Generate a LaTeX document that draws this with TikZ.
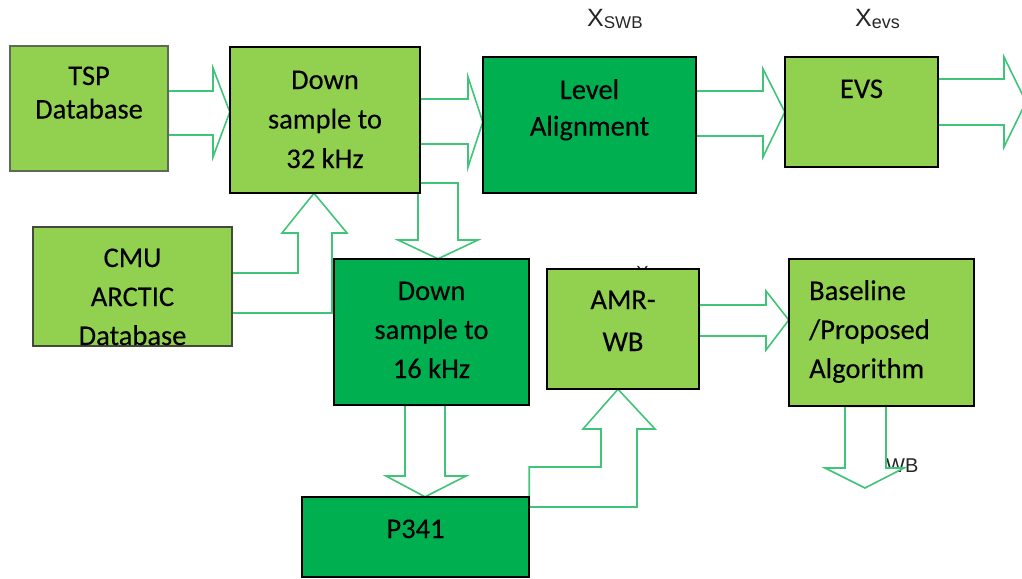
\documentclass[tikz,border=0pt]{standalone}
\usepackage{fontspec}
\setmainfont{Carlito}
\newfontfamily\lblfont{Liberation Sans}
\usetikzlibrary{calc}
\definecolor{lightgrn}{HTML}{92D050}
\definecolor{darkgrn}{HTML}{00B050}
\definecolor{arrowgrn}{RGB}{64,196,120}
\definecolor{greyedge}{RGB}{95,105,85}
% one text line per node, stacked from a first baseline
\newcommand\boxlines[6]{%
  \foreach \l [count=\i from 0] in {#6}{%
    \node[txt,#2] (#1-\i) at (#3,{#4+\i*#5}) {\l};}}
\begin{document}
\begin{tikzpicture}[x=1pt,y=-1pt,
  box/.style={draw=black, line width=1.5pt, inner sep=0pt, outer sep=0pt},
  lbox/.style={box, fill=lightgrn},
  dbox/.style={box, fill=darkgrn},
  txt/.style={inner sep=0pt, anchor=base, font=\fontsize{28.5}{34}\selectfont\addfontfeatures{FakeBold=0.25}, text=black},
  blk/.style={draw=arrowgrn, fill=white, line width=1.6pt, line join=miter},
  lbl/.style={inner sep=0pt, anchor=base west, text=black!85, font=\lblfont}]
\useasboundingbox (0,0) rectangle (1022,578);

% variable labels (partly covered by the blocks and arrows drawn later)
\node[lbl] (xswb) at (587,27) {{\fontsize{25}{25}\selectfont X}\raisebox{-1.5pt}{\fontsize{17}{17}\selectfont SWB}};
\node[lbl] (xevs) at (855,27) {{\fontsize{25}{25}\selectfont X}\raisebox{-1.5pt}{\fontsize{18}{18}\selectfont evs}};
\node[lbl] (xwb) at (636,279) {{\fontsize{19}{19}\selectfont X}\raisebox{-1pt}{\fontsize{13}{13}\selectfont WB}};
\node[lbl] (xout) at (856,471) {{\fontsize{25}{25}\selectfont X}\raisebox{-1.5pt}{\fontsize{20}{20}\selectfont SWB}};

% block positions
\coordinate (c-tsp) at (89,108.5);
\coordinate (c-ds32) at (325,120);
\coordinate (c-lvl) at (589.5,125);
\coordinate (c-evs) at (861.5,112);
\coordinate (c-cmu) at (132.5,286.5);
\coordinate (c-ds16) at (431.5,332);
\coordinate (c-amr) at (623,329);
\coordinate (c-alg) at (881.5,332.5);
\coordinate (c-p341) at (415.5,537);

% invisible anchors for the block outlines (so arrows can refer to them)
\path node[inner sep=0pt, minimum width=158, minimum height=125] (tsp) at (c-tsp) {}
      node[inner sep=0pt, minimum width=190, minimum height=146] (ds32) at (c-ds32) {}
      node[inner sep=0pt, minimum width=213, minimum height=136] (lvl) at (c-lvl) {}
      node[inner sep=0pt, minimum width=153, minimum height=110] (evs) at (c-evs) {}
      node[inner sep=0pt, minimum width=199, minimum height=119] (cmu) at (c-cmu) {}
      node[inner sep=0pt, minimum width=195, minimum height=146] (ds16) at (c-ds16) {}
      node[inner sep=0pt, minimum width=152, minimum height=120] (amr) at (c-amr) {}
      node[inner sep=0pt, minimum width=185, minimum height=147] (alg) at (c-alg) {}
      node[inner sep=0pt, minimum width=227, minimum height=80] (p341) at (c-p341) {};

\coordinate (out) at (1026,102);
\coordinate (algout) at (865,488);

% block arrows
\draw[blk] (tsp.east |- 0,91) -- (213,91) -- (213,68) -- (ds32.west |- 0,112)
  -- (213,157) -- (213,135) -- (tsp.east |- 0,135) -- cycle;
\draw[blk] (ds32.east |- 0,99) -- (468,99) -- (468,77) -- (lvl.west |- 0,122)
  -- (468,167) -- (468,144) -- (ds32.east |- 0,144) -- cycle;
\draw[blk] (lvl.east |- 0,91) -- (763,91) -- (763,69) -- (evs.west |- 0,112)
  -- (763,157) -- (763,136) -- (lvl.east |- 0,136) -- cycle;
\draw[blk] (evs.east |- 0,79) -- (1004,79) -- (1004,57) -- (out)
  -- (1004,147) -- (1004,125) -- (evs.east |- 0,125) -- cycle;
\draw[blk] (cmu.east |- 0,273) -- (298,273) -- (298,233) -- (282,233)
  -- (314,0 |- ds32.south) -- (347,233) -- (332,233) -- (332,313)
  -- (cmu.east |- 0,313) -- cycle;
\draw[blk] (418,183) -- (458,183) -- (458,240) -- (478,240)
  -- (438,0 |- ds16.north) -- (398,240) -- (418,240) -- cycle;
\draw[blk] (405,0 |- ds16.south) -- (445,0 |- ds16.south) -- (445,476) -- (466,476)
  -- (425,0 |- p341.north) -- (386,476) -- (405,476) -- cycle;
\draw[blk] (p341.east |- 0,467) -- (601,467) -- (601,429) -- (583,429)
  -- (618,0 |- amr.south) -- (655,429) -- (637,429) -- (637,507)
  -- (p341.east |- 0,507) -- cycle;
\draw[blk] (amr.east |- 0,305) -- (766,305) -- (766,291) -- (alg.west |- 0,320)
  -- (766,350) -- (766,336) -- (amr.east |- 0,336) -- cycle;
\draw[blk] (845,0 |- alg.south) -- (886,0 |- alg.south) -- (886,468) -- (904,468)
  -- (algout) -- (825,468) -- (845,468) -- cycle;

% blocks
\draw[lbox, draw=greyedge] (tsp.north west) rectangle (tsp.south east);
\draw[lbox] (ds32.north west) rectangle (ds32.south east);
\draw[dbox] (lvl.north west) rectangle (lvl.south east);
\draw[lbox] (evs.north west) rectangle (evs.south east);
\draw[lbox, draw=greyedge!70!black] (cmu.north west) rectangle (cmu.south east);
\draw[dbox] (ds16.north west) rectangle (ds16.south east);
\draw[lbox] (amr.north west) rectangle (amr.south east);
\draw[lbox] (alg.north west) rectangle (alg.south east);
\draw[dbox] (p341.north west) rectangle (p341.south east);

% block texts
\boxlines{tsp-t}{}{89}{85}{33.5}{TSP,Database}
\boxlines{ds32-t}{}{325}{89}{39.5}{Down,sample to,32 kHz}
\boxlines{lvl-t}{}{589.5}{99}{36.5}{Level,Alignment}
\boxlines{evs-t}{}{861.5}{98}{36}{EVS}
\boxlines{cmu-t}{}{132.5}{267}{39}{CMU,ARCTIC,Database}
\boxlines{ds16-t}{}{431.5}{300}{39}{Down,sample to,16 kHz}
\boxlines{amr-t}{}{623}{309}{42}{AMR-,WB}
\boxlines{alg-t}{anchor=base west}{809}{300}{39}{Baseline,/Proposed,Algorithm}
\boxlines{p341-t}{}{415.5}{538}{36}{P341}
\end{tikzpicture}
\end{document}
